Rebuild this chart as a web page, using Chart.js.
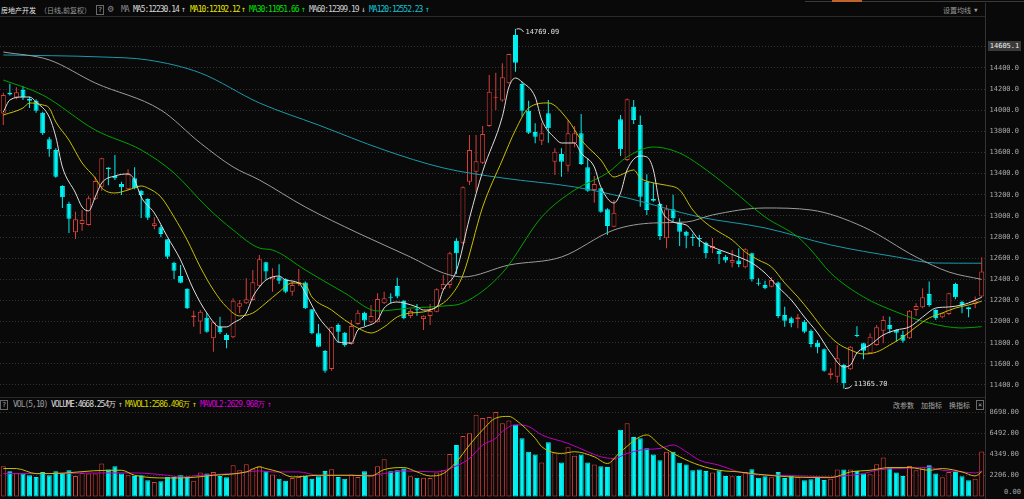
<!DOCTYPE html>
<html>
<head>
<meta charset="utf-8">
<script src="https://cdn.jsdelivr.net/npm/chart.js@4.4.1/dist/chart.umd.min.js"></script>
<style>
  body { margin: 0; width: 1024px; height: 499px; overflow: hidden; background: #090909; position: relative; }
  canvas { position: absolute; left: 0; }
  .t { position: absolute; white-space: nowrap; font: 8px 'DejaVu Sans Mono', monospace; letter-spacing: -1px; line-height: 10px; }
  .c { font-family: 'Noto Sans CJK SC', sans-serif; font-size: 7px; letter-spacing: 0; }
  .box { position: absolute; border: 1px solid #6a6a6a; width: 6px; height: 8px; font: 7px 'DejaVu Sans Mono', monospace; line-height: 8px; text-align: center; color: #aaa; }
  .ln { position: absolute; background: #2a2a2a; }
  .tag { z-index: 5; }
</style>
</head>
<body>
<div class="ln" style="left:805px;top:1px;width:219px;height:1px;background:#3a3a3a"></div>
<div class="ln" style="left:832px;top:0;width:30px;height:2px;background:#c0642a"></div>
<div class="ln" style="left:0;top:16px;width:985px;height:1px"></div>
<div class="ln" style="left:0;top:397px;width:985px;height:1px"></div>
<div class="ln" style="left:985px;top:3px;width:1px;height:496px;background:#333"></div>

<!-- header -->
<div class="t c" style="left:1px;top:5px;color:#e6e6e6">房地产开发</div>
<div class="t c" style="left:40px;top:5px;color:#9a9a9a">（日线,前复权）</div>
<div class="box" style="left:96px;top:5px">?</div>
<div class="t" style="left:108px;top:4px;color:#8a8a8a;font-size:10px;letter-spacing:0">⚙</div>
<div class="t" style="left:121px;top:5px;color:#8a8a8a">MA</div>
<div class="t" style="left:133px;top:5px;color:#d8d8d8">MA5:12230.14</div>
<div class="t" style="left:181px;top:5px;color:#c8c8c8">↑</div>
<div class="t" style="left:190px;top:5px;color:#e4e400">MA10:12192.12</div>
<div class="t" style="left:241px;top:5px;color:#e4e400">↑</div>
<div class="t" style="left:249px;top:5px;color:#00e000">MA30:11951.66</div>
<div class="t" style="left:301px;top:5px;color:#00e000">↑</div>
<div class="t" style="left:309px;top:5px;color:#cfcfcf">MA60:12399.19</div>
<div class="t" style="left:361px;top:5px;color:#cfcfcf">↓</div>
<div class="t" style="left:369px;top:5px;color:#14c4d4">MA120:12552.23</div>
<div class="t" style="left:425px;top:5px;color:#14c4d4">↑</div>
<div class="t c" style="left:943px;top:5px;color:#9a9a9a">设置均线</div>
<div class="t" style="left:974px;top:5px;color:#9a9a9a;font-size:6px">▼</div>

<div class="t tag" style="left:988px;top:41px;width:33px;height:10px;background:#3a3a3a;color:#f0f0f0;font-size:7px;letter-spacing:0;text-align:center">14605.1</div>

<!-- volume header -->
<div class="box" style="left:0;top:400px">?</div>
<div class="t" style="left:13px;top:400px;color:#9a9a9a">VOL(5,10)</div>
<div class="t" style="left:51px;top:400px;color:#dcdcdc">VOLUME:4668.254万</div>
<div class="t" style="left:118px;top:400px;color:#bdbdbd">↑</div>
<div class="t" style="left:125px;top:400px;color:#d4d400">MAVOL1:2586.496万</div>
<div class="t" style="left:192px;top:400px;color:#d4d400">↑</div>
<div class="t" style="left:200px;top:400px;color:#d400d4">MAVOL2:2629.968万</div>
<div class="t" style="left:267px;top:400px;color:#d400d4">↑</div>
<div class="t c" style="left:893px;top:400px;color:#a8a8a8">改参数</div>
<div class="t c" style="left:921px;top:400px;color:#a8a8a8">加指标</div>
<div class="t c" style="left:949px;top:400px;color:#a8a8a8">换指标</div>
<div class="box" style="left:976px;top:400px">×</div>
<div class="t" style="left:1004px;top:487px;color:#a8a8a8;font-size:7px;letter-spacing:0">0.00</div>

<canvas id="price" width="1024" height="377" style="top:20px"></canvas>
<canvas id="vol" width="1024" height="99" style="top:400px"></canvas>

<script>
// daily candles, left to right
const OPEN = [13970,14165,14120,14192,14107,14090,13977,13725,13624,13283, 13113,12845,12924,12914,13157,13276,13457,13378,13302,13252,
  13356,13239,13160,12905,12892,12779,12557,12431,12311,12043, 12000,12037,11842,11951,11873,11851,12141,12173,12204,12340,
  12561,12400,12419,12400,12283,12365,12370,12116,11889,11721, 11551,11968,11895,11788,11977,12084,11993,11993,12173,12232,
  12337,12198,12053,12112,12024,12053,12094,12305,12346,12765, 12741,13324,13418,13504,13851,14117,14091,14255,14712,14249,
  13996,13794,13712,13971,13513,13586,13475,13688,13782,13460, 13245,13261,13063,12898,13914,13530,14034,13860,13324,13160,
  13113,12788,13063,12936,12851,12800,12790,12747,12694,12668, 12614,12557,12577,12513,12646,12365,12346,12330,12370,12062,
  12031,12022,11998,11914,11800,11738,11494,11478,11589,11548, 11870,11794,11700,11778,11914,11968,11920,11873,11842,12109,
  12135,12261,12109,12040,12072,12355,12188,12135,12166,12236];
const HIGH = [14165,14250,14217,14230,14128,14104,13985,13747,13640,13290, 13135,13040,13056,13190,13371,13551,13460,13577,13324,13441,
  13460,13245,13167,12987,12914,12780,12567,12535,12315,12103, 12110,12078,11999,12046,11889,12220,12204,12410,12488,12630,
  12565,12504,12542,12410,12378,12498,12380,12116,11977,11731, 11951,11984,11901,12015,12109,12093,12157,12267,12283,12267,
  12415,12204,12119,12167,12059,12167,12315,12441,12661,12788, 13280,13766,13766,13851,14334,14355,14444,14535,14769.09,14270,
  14090,13877,13882,14097,13640,13640,13908,13850,13965,13545, 13378,13261,13072,13150,13955,14110,14097,13949,13394,13314,
  13119,13103,13200,12977,12860,12830,12820,12756,12790,12677, 12630,12677,12693,12693,12652,12410,12387,12419,12380,12141,
  12046,12071,12015,11927,11826,11744,11557,11778,11598,11768, 11955,11800,11889,11968,12053,12046,11927,11914,12109,12173,
  12315,12378,12116,12084,12273,12368,12198,12141,12236,12608];
const LOW = [13860,14140,14104,14097,14021,13977,13765,13560,13360,13075, 12838,12782,12860,12910,13150,13238,13290,13340,13198,13245,
  13252,12980,12960,12873,12798,12592,12403,12362,12120,11951, 11882,11895,11715,11882,11747,11842,12078,12167,12198,12330,
  12400,12283,12355,12268,12245,12337,12120,11880,11757,11516, 11535,11800,11762,11781,11968,11958,11984,11990,12167,12173,
  12220,12022,12031,12056,11920,11968,12088,12299,12315,12450, 12735,13293,13229,13491,13844,14002,14081,14250,14365,13940,
  13775,13687,13671,13693,13387,13371,13418,13650,13482,13229, 13125,13030,12819,12892,13567,13520,13870,13087,13009,13135,
  12772,12694,12950,12715,12694,12715,12705,12600,12646,12545, 12557,12513,12513,12504,12378,12340,12305,12325,12031,11951,
  11946,11936,11889,11757,11700,11526,11454,11422,11365.7,11541, 11852,11643,11693,11772,11794,11889,11810,11800,11836,12053,
  12125,12141,12015,12031,12062,12211,12078,12040,12125,12230];
const CLOSE = [14145,14150,14170,14123,14090,13996,13782,13630,13371,13176, 12974,12968,12960,13167,13330,13545,13445,13356,13271,13394,
  13262,13198,12983,12930,12829,12614,12482,12367,12126,12057, 12094,11904,11993,11898,11826,12198,12173,12211,12372,12589,
  12474,12425,12387,12283,12346,12370,12126,11889,11762,11535, 11946,11904,11778,11958,12084,12009,12053,12214,12220,12226,
  12236,12031,12100,12106,12056,12100,12305,12355,12646,12646, 13271,13624,13517,13775,14176,14125,14312,14532,14450,13996,
  13788,13750,13782,13829,13608,13513,13782,13782,13491,13239, 13302,13040,12905,13030,13630,14104,13908,13182,13056,13143,
  12810,13063,12977,12851,12813,12790,12780,12646,12716,12640, 12577,12583,12545,12684,12400,12358,12315,12393,12053,12008,
  11984,12040,11904,11788,11756,11535,11516,11652,11415,11762, 11863,11724,11857,11946,12015,11927,11895,11819,12103,12147,
  12230,12157,12031,12078,12267,12230,12157,12116,12198,12473];
// volume in 万
const VOLUME = [3151,2634,2462,2393,2221,2049,2565,2221,2634,2462, 2737,2152,2462,2393,2393,3426,2806,3151,2393,2221,
  2152,2221,1704,1532,1601,2049,2049,2221,2049,1670, 2497,2393,2565,2152,2014,3254,2737,3357,2910,3151,
  2634,2290,1876,1670,1945,2049,2152,1876,2118,2668, 2841,2049,1876,2290,2049,2634,2221,3151,3874,2634,
  2737,2910,2118,1980,1980,1945,2497,2737,4390,5320, 6250,6525,8419,8075,8178,8695,7558,7833,7386,6009,
  4631,4356,3530,5596,4563,3530,5079,4218,4356,3530, 3323,3151,3082,3943,6869,7558,6146,6009,4976,4356,
  3770,4631,4631,3495,3323,2737,2806,2668,2497,2703, 2152,2118,2152,2565,2841,1980,2118,2014,2565,1945,
  2152,2049,1704,1808,1945,1739,1876,2806,2806,2806, 2668,2393,2324,3357,4046,3013,2497,2152,3185,2737,
  3013,3254,2393,2014,2565,2565,2118,1704,1876,4668];

// moving averages: [candle index, value]
const MA5 = [[0,13983],[1,14097],[3,14125],[4,14125],[5,14078],[7,13936],[8,13747],[9,13463],[11,13217],[12,13084],[13,13047],
  [14,13179],[15,13312],[17,13378],[19,13397],[20,13340],[21,13179],[23,13028],[25,12801],[27,12583],[29,12299],[31,12081],
  [33,11949],[34,11949],[35,11986],[37,12081],[38,12233],[39,12327],[40,12393],[42,12431],[43,12393],[45,12365],[46,12270],
  [48,12043],[50,11892],[51,11807],[53,11797],[54,11920],[55,11949],[57,12015],[58,12128],[60,12185],[61,12176],[63,12138],
  [64,12109],[66,12138],[67,12299],[69,12480],[71,12980],[73,13420],[76,13940],[77,14220],[78,14305],[79,14267],[81,14125],
  [82,13908],[84,13737],[85,13690],[87,13690],[88,13595],[90,13463],[91,13274],[93,13122],[94,13217],[95,13435],[97,13567],
  [98,13558],[99,13435],[100,13103],[102,12943],[104,12914],[106,12772],[108,12705],[110,12658],[112,12611],[114,12554],
  [116,12460],[118,12327],[120,12204],[122,12043],[124,11892],[126,11703],[128,11570],[129,11589],[130,11703],[132,11778],
  [134,11873],[136,11920],[138,11949],[140,12043],[142,12128],[144,12138],[146,12157],[147,12176],[149,12230]];
const MA10 = [[0,13955],[3,14021],[4,14069],[6,14050],[7,14021],[8,13889],[10,13718],[12,13501],[14,13359],[15,13264],[17,13217],
  [19,13245],[21,13283],[22,13264],[24,13179],[26,12990],[28,12772],[30,12516],[32,12299],[34,12138],[36,12053],[38,12081],
  [40,12176],[42,12280],[44,12365],[46,12346],[47,12233],[50,12109],[52,12015],[54,11939],[56,11892],[58,11949],[60,12044],
  [62,12081],[64,12091],[66,12138],[68,12233],[70,12441],[73,13084],[76,13529],[78,13813],[80,14021],[83,14069],[86,13908],
  [88,13719],[91,13529],[93,13368],[94,13387],[96,13435],[97,13359],[99,13312],[101,13290],[103,13245],[105,13056],[107,12933],
  [109,12848],[111,12772],[113,12658],[115,12583],[117,12516],[119,12365],[121,12233],[123,12081],[125,11920],[127,11797],
  [129,11731],[131,11693],[133,11712],[135,11778],[137,11854],[139,11949],[141,12034],[143,12081],[145,12128],[147,12157],[149,12192]];
const MA30 = [[0,14286],[6,14144],[14,13813],[21,13624],[26,13406],[31,13084],[35,12867],[39,12696],[41,12677],[46,12488],
  [52,12270],[57,12100],[62,12128],[67,12147],[70,12176],[76,12460],[82,12990],[87,13245],[92,13406],[95,13558],[99,13652],
  [103,13595],[106,13482],[111,13245],[116,12990],[121,12800],[123,12677],[126,12460],[131,12233],[136,12091],[141,11986],
  [146,11939],[149,11952]];
const MA60 = [[0,14551],[7,14476],[14,14258],[24,14002],[30,13690],[35,13463],[39,13340],[46,13084],[54,12838],[62,12611],
  [67,12460],[70,12422],[77,12535],[85,12611],[93,12867],[99,12933],[104,12942],[108,13009],[116,13075],[123,13056],
  [131,12895],[139,12611],[144,12469],[149,12399]];
const MA120 = [[0,14523],[15,14504],[22,14476],[30,14353],[39,14069],[48,13860],[58,13624],[67,13454],[76,13359],[87,13274],
  [95,13170],[106,12990],[116,12886],[126,12725],[136,12612],[142,12554],[149,12552]];
const MAVOL1 = [[0,2910],[2,2910],[5,2393],[7,2393],[16,2737],[18,2737],[20,2221],[25,1945],[27,1945],[32,2221],[37,2565],
  [39,3082],[40,2910],[42,2565],[44,2049],[48,2221],[53,2221],[56,2152],[58,2806],[61,3013],[63,2565],[65,2152],[67,2393],
  [69,3598],[71,5320],[73,6869],[75,8075],[77,8247],[78,7903],[81,6009],[82,5148],[85,4459],[87,4631],[90,4115],[92,3426],
  [94,4631],[98,6353],[100,5320],[103,4115],[106,3254],[109,2737],[112,2565],[115,2324],[120,2049],[126,1980],[129,2565],
  [132,2737],[135,3013],[138,3013],[141,2737],[143,2910],[146,2565],[148,2152],[149,2586]];
const MAVOL2 = [[0,2393],[5,2393],[15,2462],[20,2462],[25,2221],[27,2049],[30,2221],[35,2393],[39,2668],[41,2565],[45,2565],
  [48,2221],[51,2221],[56,2221],[58,2393],[61,2668],[66,2565],[68,2910],[71,3943],[73,5320],[75,6009],[76,6697],[78,7386],
  [80,7214],[82,6353],[86,5492],[89,4631],[91,4115],[93,3943],[95,4459],[97,4803],[100,4976],[102,5320],[104,4631],[106,3770],
  [109,3254],[112,2565],[114,2324],[118,2221],[123,2118],[126,2049],[129,2221],[131,2393],[133,2737],[136,2910],[141,3013],
  [143,2737],[146,2565],[148,2462],[149,2630]];

const PRICE_TICKS = [11400,11600,11800,12000,12200,12400,12600,12800,13000,13200,13400,13600,13800,14000,14200,14400,14600];
const VOL_TICKS = [0,2206,4349,6492,8698];

const BG = '#090909';
const UP = '#d8403c';
const DOWN = '#00f2f2';
const IDX = OPEN.map((_, i) => i);
const isUp = i => CLOSE[i] >= OPEN[i];
const pts = arr => arr.map(p => ({ x: p[0], y: p[1] }));

function maLine(arr, color) {
  return {
    type: 'line', data: pts(arr), borderColor: color, borderWidth: 1,
    pointRadius: 0, cubicInterpolationMode: 'monotone', order: 0
  };
}

function rightAxis(ticks, fmt) {
  return {
    position: 'right',
    afterBuildTicks: s => { s.ticks = ticks.map(v => ({ value: v })); },
    afterFit: s => { s.width = 34; s.paddingTop = 0; s.paddingBottom = 0; },
    grid: { color: ctx => ctx.tick && ctx.tick.value === 0 ? 'rgba(0,0,0,0)' : '#333333', drawTicks: false },
    border: { display: false, dash: [1, 2] },
    ticks: {
      color: '#a8a8a8', padding: 0, crossAlign: 'far', autoSkip: false,
      font: { family: 'DejaVu Sans Mono', size: 7 },
      callback: fmt
    }
  };
}

// high / low markers
const marks = {
  id: 'marks',
  afterDatasetsDraw(chart) {
    const { ctx, scales: { x, y } } = chart;
    const hi = HIGH.indexOf(Math.max(...HIGH));
    const lo = LOW.indexOf(Math.min(...LOW));
    ctx.save();
    ctx.strokeStyle = '#d8d8d8';
    ctx.fillStyle = '#e0e0e0';
    ctx.lineWidth = 1;
    ctx.font = '7px "DejaVu Sans Mono"';
    ctx.textBaseline = 'middle';
    let px = x.getPixelForValue(hi), py = y.getPixelForValue(HIGH[hi]);
    ctx.beginPath();
    ctx.moveTo(px + 1, py);
    ctx.quadraticCurveTo(px + 6, py - 1, px + 8, py + 3);
    ctx.stroke();
    ctx.fillText(HIGH[hi].toFixed(2), px + 10, py + 3);
    px = x.getPixelForValue(lo); py = y.getPixelForValue(LOW[lo]);
    ctx.beginPath();
    ctx.moveTo(px + 1, py);
    ctx.quadraticCurveTo(px + 6, py, px + 8, py - 3);
    ctx.stroke();
    ctx.fillText(LOW[lo].toFixed(2), px + 10, py - 4);
    ctx.restore();
  }
};

new Chart(document.getElementById('price'), {
  data: {
    labels: IDX,
    datasets: [
      maLine(MA5, '#dedede'),
      maLine(MA10, '#c8c000'),
      maLine(MA30, '#00a400'),
      maLine(MA60, '#9c9c9c'),
      maLine(MA120, '#1a9aaa'),
      {
        type: 'bar', data: IDX.map(i => [OPEN[i], CLOSE[i]]),
        backgroundColor: IDX.map(i => isUp(i) ? BG : DOWN),
        borderColor: IDX.map(i => isUp(i) ? UP : DOWN),
        borderWidth: 1, borderSkipped: false, barThickness: 5, minBarLength: 1,
        inflateAmount: 0, grouped: false, order: 1
      },
      {
        type: 'bar', data: IDX.map(i => [LOW[i], HIGH[i]]),
        backgroundColor: IDX.map(i => isUp(i) ? UP : DOWN),
        borderWidth: 0, barThickness: 1, inflateAmount: 0, grouped: false, order: 2
      }
    ]
  },
  options: {
    responsive: false, animation: false,
    layout: { padding: { right: 5 } },
    plugins: { legend: { display: false }, tooltip: { enabled: false } },
    scales: {
      x: { display: false },
      y: Object.assign(rightAxis(PRICE_TICKS, v => v.toFixed(1)), { min: 11286, max: 14854 })
    }
  },
  plugins: [marks]
});

new Chart(document.getElementById('vol'), {
  data: {
    labels: IDX,
    datasets: [
      { type: 'line', data: pts(MAVOL1), borderColor: '#c8c000', borderWidth: 1, pointRadius: 0, cubicInterpolationMode: 'monotone', order: 0 },
      { type: 'line', data: pts(MAVOL2), borderColor: '#c000c0', borderWidth: 1, pointRadius: 0, cubicInterpolationMode: 'monotone', order: 0 },
      {
        type: 'bar', data: VOLUME,
        backgroundColor: IDX.map(i => isUp(i) ? BG : DOWN),
        borderColor: IDX.map(i => isUp(i) ? UP : DOWN),
        borderWidth: 1, borderSkipped: false, barThickness: 5, inflateAmount: 0, order: 1
      }
    ]
  },
  options: {
    responsive: false, animation: false,
    layout: { padding: { top: 12, bottom: 2, right: 5 } },
    plugins: { legend: { display: false }, tooltip: { enabled: false } },
    scales: {
      x: { display: false },
      y: Object.assign(rightAxis(VOL_TICKS, v => v === 0 ? '' : v.toFixed(2)), { min: 0, max: 8698 })
    }
  }
});
</script>
</body>
</html>
